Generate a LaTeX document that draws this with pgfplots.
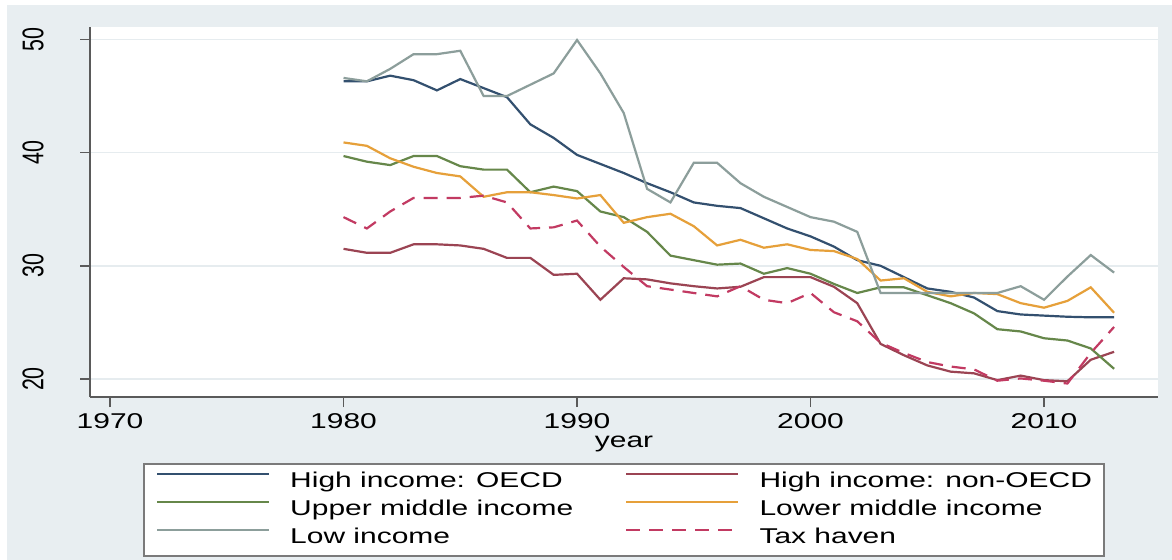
\documentclass[border=0pt]{standalone}
\usepackage{pgfplots}
\pgfplotsset{compat=1.18}
\usepackage{pgfplotstable}
\usepackage{graphicx}
\usepackage{fontspec}
\setmainfont{Liberation Sans}
\newfontfamily\hfont[FakeStretch=1.4]{Liberation Sans}

\definecolor{bgc}{HTML}{E8EEF1}
\definecolor{gridc}{HTML}{E6ECEF}
\definecolor{axc}{HTML}{5A5A5A}
\definecolor{legc}{HTML}{7A7A7A}
\definecolor{oecdc}{HTML}{33506F}
\definecolor{nonc}{HTML}{9B4453}
\definecolor{upc}{HTML}{66874A}
\definecolor{lowmidc}{HTML}{E6A03A}
\definecolor{lowc}{HTML}{8C9E9B}
\definecolor{taxc}{HTML}{C23A62}

\pgfplotstableread{
year oecd nonoecd upper lowmid low tax
1980 46.3 31.5 39.7 40.9 46.6 34.3
1981 46.3 31.15 39.2 40.6 46.3 33.3
1982 46.8 31.15 38.9 39.5 47.4 34.8
1983 46.4 31.9 39.7 38.75 48.7 36.0
1984 45.5 31.9 39.7 38.2 48.7 36.0
1985 46.5 31.8 38.8 37.9 49.0 36.0
1986 45.7 31.5 38.5 36.1 45.0 36.2
1987 44.9 30.7 38.5 36.5 45.0 35.6
1988 42.5 30.7 36.5 36.5 46.0 33.3
1989 41.3 29.2 37.0 36.25 47.0 33.4
1990 39.8 29.3 36.6 35.95 49.95 34.0
1991 39.0 27.0 34.8 36.25 47.0 31.7
1992 38.2 28.9 34.3 33.8 43.5 29.9
1993 37.3 28.8 33.0 34.3 36.8 28.2
1994 36.5 28.45 30.9 34.6 35.6 27.9
1995 35.6 28.2 30.5 33.5 39.1 27.6
1996 35.3 28.0 30.1 31.8 39.1 27.3
1997 35.1 28.15 30.2 32.3 37.3 28.2
1998 34.2 29.0 29.3 31.6 36.1 27.0
1999 33.3 29.0 29.8 31.9 35.2 26.7
2000 32.6 29.0 29.3 31.4 34.3 27.6
2001 31.7 28.15 28.4 31.3 33.9 25.9
2002 30.5 26.7 27.6 30.6 33.0 25.1
2003 30.0 23.1 28.1 28.7 27.6 23.2
2004 29.0 22.1 28.1 28.9 27.6 22.3
2005 28.0 21.2 27.4 27.7 27.6 21.5
2006 27.7 20.65 26.7 27.3 27.6 21.1
2007 27.2 20.5 25.8 27.6 27.6 20.85
2008 26.0 19.9 24.4 27.5 27.6 19.85
2009 25.7 20.3 24.2 26.7 28.2 20.05
2010 25.6 19.9 23.6 26.3 27.0 19.85
2011 25.5 19.8 23.4 26.9 29.05 19.6
2012 25.45 21.7 22.7 28.1 30.95 22.3
2013 25.45 22.4 20.9 25.85 29.4 24.6
}\data

\begin{document}
\begin{tikzpicture}
\useasboundingbox (0,0) rectangle (586pt,-280pt);
\fill[white] (0,0) rectangle (586pt,-280pt);
\fill[bgc] (3.5pt,-2.5pt) rectangle (586pt,-280pt);
\begin{axis}[
    at={(45pt,-198.5pt)}, anchor=south west,
    scale only axis, width=534pt, height=185pt,
    xmin=1969.143, xmax=2014.88, ymin=18.41, ymax=51.10,
    axis lines*=left,
    axis background/.style={fill=white},
    axis line style={line width=0.75pt, color=axc},
    tick style={line width=0.75pt, color=axc},
    tick align=outside, major tick length=5pt,
    xtick={1970,1980,1990,2000,2010},
    xticklabels={1970,1980,1990,2000,2010},
    ytick={20,30,40,50},
    yticklabels={\scalebox{1}[1.4]{20},\scalebox{1}[1.4]{30},\scalebox{1}[1.4]{40},\scalebox{1}[1.4]{50}},
    xticklabel style={font=\fontsize{10.7}{12}\hfont, inner sep=0pt, yshift=-3pt},
    yticklabel style={font=\fontsize{10.7}{12}\selectfont, inner sep=0pt, xshift=-18pt, rotate=90, anchor=south},
    ymajorgrids, grid style={line width=0.75pt, color=gridc},
    xlabel={year},
    xlabel style={font=\fontsize{10.7}{12}\hfont, at={(axis description cs:0.5,-0.1257)}, anchor=center, inner sep=0pt},
    legend columns=2,
    legend cell align=left,
    legend image code/.code={\draw[#1] (0pt,3.8pt) -- (56pt,3.8pt);},
    legend style={
        at={(axis description cs:0.5,-0.1784)}, anchor=north,
        draw=legc, line width=0.75pt, fill=white,
        inner xsep=6pt, inner ysep=4pt,
        font=\fontsize{10.7}{12}\hfont,
        row sep=4pt,
        /tikz/every odd column/.append style={column sep=10pt},
        /tikz/every even column/.append style={column sep=26pt},
        nodes={inner sep=0pt, text height=7.7pt, text depth=2.3pt},
    },
]
\addplot[oecdc, line width=1.1pt] table[x=year, y=oecd] {\data};
\addlegendentry{High income: OECD}
\addplot[nonc, line width=1.1pt] table[x=year, y=nonoecd] {\data};
\addlegendentry{High income: non-OECD}
\addplot[upc, line width=1.1pt] table[x=year, y=upper] {\data};
\addlegendentry{Upper middle income}
\addplot[lowmidc, line width=1.1pt] table[x=year, y=lowmid] {\data};
\addlegendentry{Lower middle income}
\addplot[lowc, line width=1.1pt] table[x=year, y=low] {\data};
\addlegendentry{Low income}
\addplot[taxc, line width=1.1pt, dash pattern=on 7pt off 4.5pt] table[x=year, y=tax] {\data};
\addlegendentry{Tax haven}
\end{axis}
\end{tikzpicture}
\end{document}
